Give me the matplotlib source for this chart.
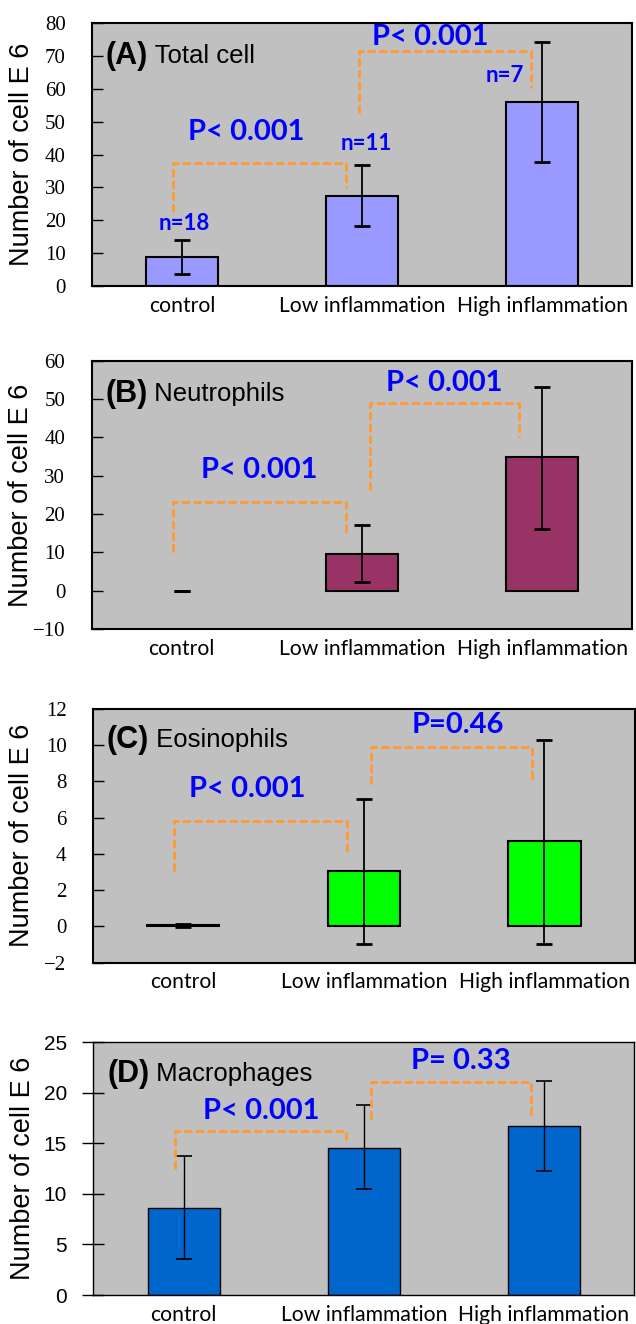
import numpy as np
import matplotlib
matplotlib.use("Agg")
import matplotlib.pyplot as plt

# categories shared by every panel
groups = ["control", "Low inflammation", "High inflammation"]

# (A) total cells
total_mean = [8.7, 27.3, 56.0]
total_lo = [3.5, 18.3, 37.6]
total_hi = [13.9, 36.8, 74.2]
total_n = ["n=18", "n=11", "n=7"]

# (B) neutrophils
neut_mean = [0.0, 9.6, 34.8]
neut_lo = [0.0, 2.2, 16.1]
neut_hi = [0.0, 17.1, 53.1]

# (C) eosinophils
eos_mean = [0.05, 3.05, 4.72]
eos_lo = [-0.05, -0.95, -0.95]
eos_hi = [0.15, 7.0, 10.3]

# (D) macrophages
mac_mean = [8.6, 14.55, 16.7]
mac_lo = [3.55, 10.5, 12.3]
mac_hi = [13.7, 18.75, 21.15]

# p-value labels and the bracket heights (left foot, top, right foot)
p_texts = {
    "A": ["P< 0.001", "P< 0.001"],
    "B": ["P< 0.001", "P< 0.001"],
    "C": ["P< 0.001", "P=0.46"],
    "D": ["P< 0.001", "P= 0.33"],
}
brackets = {
    "A": [(22.6, 37.4, 29.8), (52.7, 71.4, 60.3)],
    "B": [(10.2, 23.1, 14.3), (26.4, 49.0, 40.0)],
    "C": [(3.08, 5.8, 3.97), (7.85, 9.9, 8.0)],
    "D": [(12.5, 16.2, 15.3), (17.4, 21.1, 17.7)],
}
# x of bracket legs, x/y of p labels
bracket_x = {
    "A": [(-0.05, 0.91), (0.98, 1.94)],
    "B": [(-0.05, 0.91), (1.045, 1.87)],
    "C": [(-0.05, 0.905), (1.04, 1.93)],
    "D": [(-0.05, 0.9), (1.04, 1.93)],
}
p_pos = {
    "A": [(0.357, 47.0), (1.38, 75.8)],
    "B": [(0.43, 31.6), (1.455, 54.3)],
    "C": [(0.355, 7.6), (1.52, 11.1)],
    "D": [(0.43, 18.2), (1.54, 23.1)],
}

blue = "#0000FF"
orange = "#FF9933"
bg = "#C0C0C0"

fig = plt.figure(figsize=(6.36, 13.24), dpi=100)

# axes rectangles [left, bottom, width, height] in figure fractions
rects = [
    [0.145, 0.784, 0.849, 0.1986],
    [0.144, 0.525, 0.850, 0.2024],
    [0.146, 0.2729, 0.852, 0.1918],
    [0.147, 0.0219, 0.850, 0.1910],
]


def draw_panel(rect, key, title, mean, lo, hi, color, ylim, yticks, serif=True, lw=1.5):
    ax = fig.add_axes(rect)
    ax.set_facecolor(bg)
    x = np.arange(len(groups))
    mean = np.array(mean)
    widths = [0 if m == 0 else lw for m in mean]
    ax.bar(x, mean, width=0.4, color=color, edgecolor="black", linewidth=widths, zorder=2)
    err = [mean - np.array(lo), np.array(hi) - mean]
    ax.errorbar(x, mean, yerr=err, fmt="none", ecolor="black",
                elinewidth=1.3 if serif else 1.0, capsize=6,
                capthick=2.0 if serif else 1.2, zorder=3)
    ax.set_xlim(-0.5, 2.5)
    ax.set_ylim(*ylim)
    ax.set_xticks(x)
    ax.set_xticklabels(groups, fontsize=15.2, family="Lato")
    ax.tick_params(axis="x", length=0, pad=7)
    ylabels = [str(v).replace("-", "\u2212") for v in yticks]
    ax.set_yticks(yticks)
    if serif:
        ax.set_yticklabels(ylabels, fontsize=15, fontfamily=["Liberation Serif", "DejaVu Serif"])
        ax.tick_params(axis="y", direction="in", length=8, width=1, pad=19)
    else:
        ax.set_yticklabels(ylabels, fontsize=15, fontfamily="Liberation Sans")
        ax.tick_params(axis="y", direction="inout", length=16, width=1, pad=11)
    for s in ax.spines.values():
        s.set_linewidth(lw)
    ax.set_ylabel("Number of cell E 6", fontsize=19.5, family="Liberation Sans")
    ax.yaxis.set_label_coords(-0.106, 0.5)

    # brackets
    for (x0, x1), (y0, ytop, y1) in zip(bracket_x[key], brackets[key]):
        ax.plot([x0, x0, x1, x1], [y0, ytop, ytop, y1], color=orange, lw=2,
                ls=(0, (3, 1.2)), zorder=4)
    for (px, py), s in zip(p_pos[key], p_texts[key]):
        ax.text(px, py, s, color=blue, fontsize=21, fontweight="bold", family="Lato",
                ha="center", va="center", zorder=5)

    # panel title
    tag, name = title
    t1 = ax.text(0.025, 0.875, tag, transform=ax.transAxes, fontsize=22, fontweight="bold",
                 family="Liberation Sans", ha="left", va="center")
    ax.annotate(" " + name, xy=(1, 0.5), xycoords=t1, fontsize=18.5, family="Liberation Sans",
                ha="left", va="center")
    return ax


axA = draw_panel(rects[0], "A", ("(A)", "Total cell"), total_mean, total_lo, total_hi,
                 "#9999FF", (0, 80), np.arange(0, 81, 10))
n_pos = [(0.01, 18.9), (1.02, 43.3), (1.79, 63.9)]
for (px, py), s in zip(n_pos, total_n):
    axA.text(px, py, s, color=blue, fontsize=16, fontweight="bold", family="Lato",
             ha="center", va="center", zorder=5)

draw_panel(rects[1], "B", ("(B)", "Neutrophils"), neut_mean, neut_lo, neut_hi,
           "#993366", (-10, 60), np.arange(-10, 61, 10))
draw_panel(rects[2], "C", ("(C)", "Eosinophils"), eos_mean, eos_lo, eos_hi,
           "#00FF00", (-2, 12), np.arange(-2, 13, 2))
draw_panel(rects[3], "D", ("(D)", "Macrophages"), mac_mean, mac_lo, mac_hi,
           "#0066CC", (0, 25), np.arange(0, 26, 5), serif=False, lw=1.0)

fig.savefig("out.png", dpi=100)
